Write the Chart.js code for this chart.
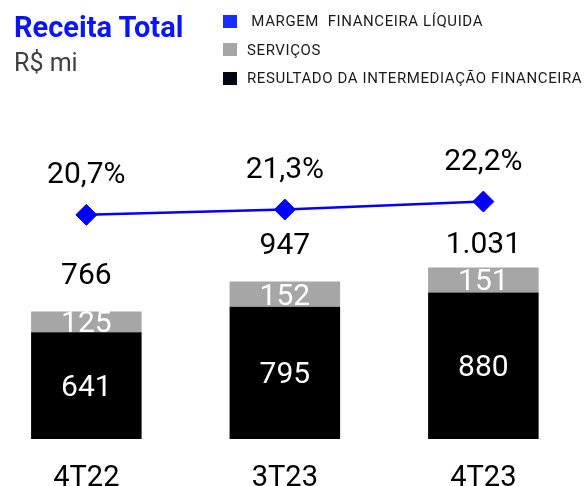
<!DOCTYPE html>
<html>
<head>
<meta charset="utf-8">
<script src="https://cdn.jsdelivr.net/npm/chart.js@4.4.1/dist/chart.umd.min.js"></script>
<style>
  body { margin: 0; background: #fff; font-family: Roboto, sans-serif; }
  #wrap { position: relative; width: 585px; height: 486px; overflow: hidden; }
  #wrap canvas { position: absolute; left: 0; top: 0; }
  .title { position: absolute; left: 14px; top: 9px; font-weight: 700; font-size: 29px; color: #0a14ff; line-height: 36px; }
  .unit { position: absolute; left: 14px; top: 47px; font-size: 25px; color: #404040; line-height: 32px; }
  #legend { position: absolute; left: 223px; top: 7px; }
  #legend .row { display: flex; align-items: center; height: 28.6px; font-size: 15px; letter-spacing: 0.6px; color: #1a1a1a; white-space: pre; }
  #legend .box { width: 14px; height: 13px; margin-right: 10px; flex: none; }
</style>
</head>
<body>
<div id="wrap">
  <canvas id="chart" width="585" height="486"></canvas>
  <div class="title">Receita Total</div>
  <div class="unit">R$ mi</div>
  <div id="legend"></div>
</div>
<script>
// data
const categories = ['4T22', '3T23', '4T23'];
const resultado = [641, 795, 880];
const servicos = [125, 152, 151];
const margem = [20.7, 21.3, 22.2];
const seriesNames = [' MARGEM  FINANCEIRA LÍQUIDA', 'SERVIÇOS', 'RESULTADO DA INTERMEDIAÇÃO FINANCEIRA'];
const seriesColors = ['#1a2cff', '#a6a6a6', '#000814'];

const fmtInt = n => String(n).replace(/\B(?=(\d{3})+(?!\d))/g, '.');
const fmtPct = v => v.toFixed(1).replace('.', ',') + '%';
const pts = arr => arr.map((v, i) => ({ x: i, y: v }));

// legend (html)
const legend = document.getElementById('legend');
seriesNames.forEach((name, i) => {
  const row = document.createElement('div');
  row.className = 'row';
  row.innerHTML = `<span class="box" style="background:${seriesColors[i]}"></span><span></span>`;
  row.lastChild.textContent = name;
  legend.appendChild(row);
});

// value labels, y given as the visual centre of the digits
const valueLabels = {
  id: 'valueLabels',
  afterDatasetsDraw(chart) {
    const ctx = chart.ctx;
    const line = chart.getDatasetMeta(0).data;
    const res = chart.getDatasetMeta(1).data;
    const ser = chart.getDatasetMeta(2).data;
    const put = (txt, x, y) => ctx.fillText(txt, x, y + 10.5);
    ctx.save();
    ctx.font = '30px Roboto';
    ctx.textAlign = 'center';
    ctx.textBaseline = 'alphabetic';

    ctx.fillStyle = '#fff';
    res.forEach((b, i) => put(fmtInt(resultado[i]), b.x, (b.y + b.base) / 2));
    ser.forEach((b, i) => put(fmtInt(servicos[i]), b.x, (b.y + b.base) / 2));

    ctx.fillStyle = '#000';
    const lineTop = Math.min(...line.map(p => p.y));
    ser.forEach((b, i) => {
      const y = Math.max(b.y - 38, lineTop + 41);
      put(fmtInt(resultado[i] + servicos[i]), b.x, y);
    });
    line.forEach((p, i) => put(fmtPct(margem[i]), p.x, p.y - 42));
    ctx.restore();
  }
};

new Chart(document.getElementById('chart'), {
  type: 'bar',
  data: {
    datasets: [
      {
        type: 'line', label: seriesNames[0], data: pts(margem), yAxisID: 'y2', order: 0,
        borderColor: '#0000ff', backgroundColor: '#0000ff', borderWidth: 2.5,
        pointStyle: 'rectRot', pointRadius: 10.5, pointBorderWidth: 1, tension: 0
      },
      { label: seriesNames[2], data: pts(resultado), backgroundColor: '#000', yAxisID: 'y', order: 1,
        categoryPercentage: 0.8, barPercentage: 0.696 },
      { label: seriesNames[1], data: pts(servicos), backgroundColor: '#a6a6a6', yAxisID: 'y', order: 1,
        categoryPercentage: 0.8, barPercentage: 0.696 }
    ]
  },
  options: {
    responsive: false,
    animation: false,
    devicePixelRatio: 1,
    layout: { autoPadding: false, padding: { top: 100, left: 0, right: 0, bottom: 0 } },
    plugins: { legend: { display: false }, tooltip: { enabled: false } },
    scales: {
      x: {
        type: 'linear', stacked: true, offset: false, min: -0.435, max: 2.512,
        grid: { display: false, drawTicks: false }, border: { display: false },
        afterBuildTicks: s => { s.ticks = categories.map((c, i) => ({ value: i })); },
        afterFit: s => { s.height = 47; },
        ticks: { padding: 22, color: '#000', font: { family: 'Roboto', size: 29 },
                 callback: v => categories[v] }
      },
      y: { display: false, stacked: true, min: 0, max: 2037 },
      y2: { display: false, stacked: false, min: -4.59, max: 33.66 }
    }
  },
  plugins: [valueLabels]
});
</script>
</body>
</html>
